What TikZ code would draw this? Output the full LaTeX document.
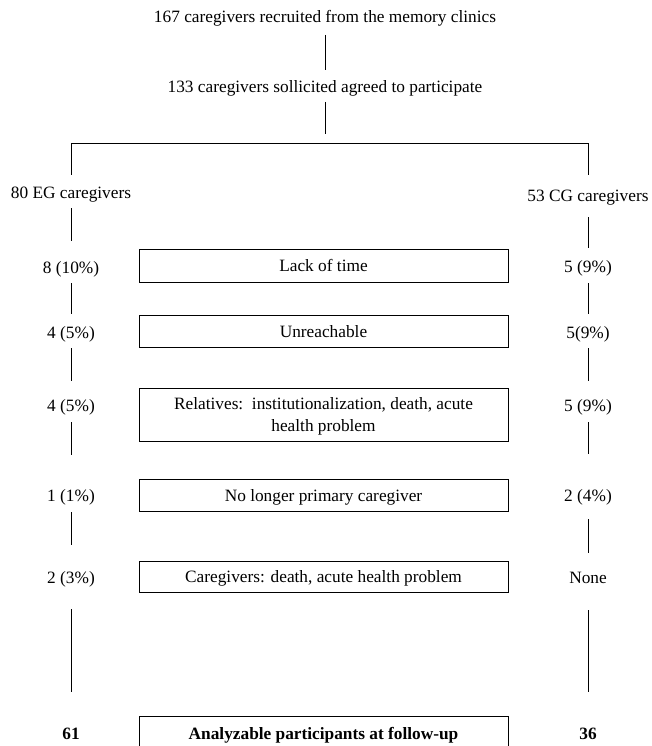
\documentclass[tikz,border=0pt]{standalone}
\usepackage{fontspec}
\setmainfont{Liberation Serif}
\begin{document}
\begin{tikzpicture}[x=1pt,y=-1pt,
  font=\fontsize{17.3}{22}\selectfont,
  lab/.style={anchor=base,inner sep=0pt},
  box/.style={draw,line width=0.8pt,minimum width=369pt,inner sep=0pt,
    text height=12pt,text depth=0pt},
  box2l/.style={draw,line width=0.8pt,minimum width=369pt,inner sep=0pt,align=center},
  conn/.style={line width=0.8pt}]
\useasboundingbox (0,0) rectangle (651,746);
\clip (0,0) rectangle (651,746);

% top
\node[lab] (t1) at (325,17+6) {167 caregivers recruited from the memory clinics};
\node[lab] (t2) at (325,87+6) {133 caregivers sollicited agreed to participate};
\coordinate (c1) at (325,35); \coordinate (c2) at (325,70);
\coordinate (c3) at (325,102); \coordinate (c4) at (325,134);
\draw[conn] (c1) -- (c2);
\draw[conn] (c3) -- (c4);
\coordinate (hl) at (71,143); \coordinate (hr) at (588,143);
\coordinate (dl) at (71,175); \coordinate (dr) at (588,175);
\draw[conn] (dl) -- (hl) -- (hr) -- (dr);

% group labels
\node[lab] (eg) at (71,192+6) {80 EG caregivers};
\node[lab] (cg) at (588,195+6) {53 CG caregivers};

% boxes
\node[box,minimum height=33pt] (b1) at (323.5,265.5) {Lack of time};
\node[box,minimum height=32pt] (b2) at (323.5,331) {Unreachable};
\node[box2l,minimum height=53pt] (b3) at (323.5,414.5) {\rule{0pt}{15pt}Relatives:\ \ institutionalization, death, acute\\health problem};
\node[box,minimum height=32pt] (b4) at (323.5,495) {No longer primary caregiver};
\node[box,minimum height=31pt] (b5) at (323.5,576.5) {Caregivers: death, acute health problem};
\node[box,minimum height=34pt,font=\fontsize{17.3}{22}\selectfont\bfseries] (b6) at (323.5,733) {Analyzable participants at follow-up};

% left column
\node[lab] (l1) at (71,267+6) {8 (10\%)};
\node[lab] (l2) at (71,332+6) {4 (5\%)};
\node[lab] (l3) at (71,405+6) {4 (5\%)};
\node[lab] (l4) at (71,495+6) {1 (1\%)};
\node[lab] (l5) at (71,577+6) {2 (3\%)};
\node[lab,font=\fontsize{17.3}{22}\selectfont\bfseries] (l6) at (71,733+6) {61};

% right column
\node[lab] (r1) at (588,266+6) {5 (9\%)};
\node[lab] (r2) at (588,332+6) {5(9\%)};
\node[lab] (r3) at (588,405+6) {5 (9\%)};
\node[lab] (r4) at (588,495+6) {2 (4\%)};
\node[lab] (r5) at (588,577+6) {None};
\node[lab,font=\fontsize{17.3}{22}\selectfont\bfseries] (r6) at (588,733+6) {36};

% left connectors
\coordinate (la1) at (71,208); \coordinate (la2) at (71,241);
\coordinate (lb1) at (71,283); \coordinate (lb2) at (71,314);
\coordinate (lc1) at (71,348); \coordinate (lc2) at (71,381);
\coordinate (ld1) at (71,422); \coordinate (ld2) at (71,455);
\coordinate (le1) at (71,512); \coordinate (le2) at (71,545);
\coordinate (lf1) at (71,609); \coordinate (lf2) at (71,692);
\foreach \s in {la,lb,lc,ld,le,lf}{\draw[conn] (\s1) -- (\s2);}

% right connectors
\coordinate (ra1) at (588,217); \coordinate (ra2) at (588,248);
\coordinate (rb1) at (588,283); \coordinate (rb2) at (588,314);
\coordinate (rc1) at (588,348); \coordinate (rc2) at (588,381);
\coordinate (rd1) at (588,422); \coordinate (rd2) at (588,454);
\coordinate (re1) at (588,519); \coordinate (re2) at (588,553);
\coordinate (rf1) at (588,610); \coordinate (rf2) at (588,692);
\foreach \s in {ra,rb,rc,rd,re,rf}{\draw[conn] (\s1) -- (\s2);}
\end{tikzpicture}
\end{document}
